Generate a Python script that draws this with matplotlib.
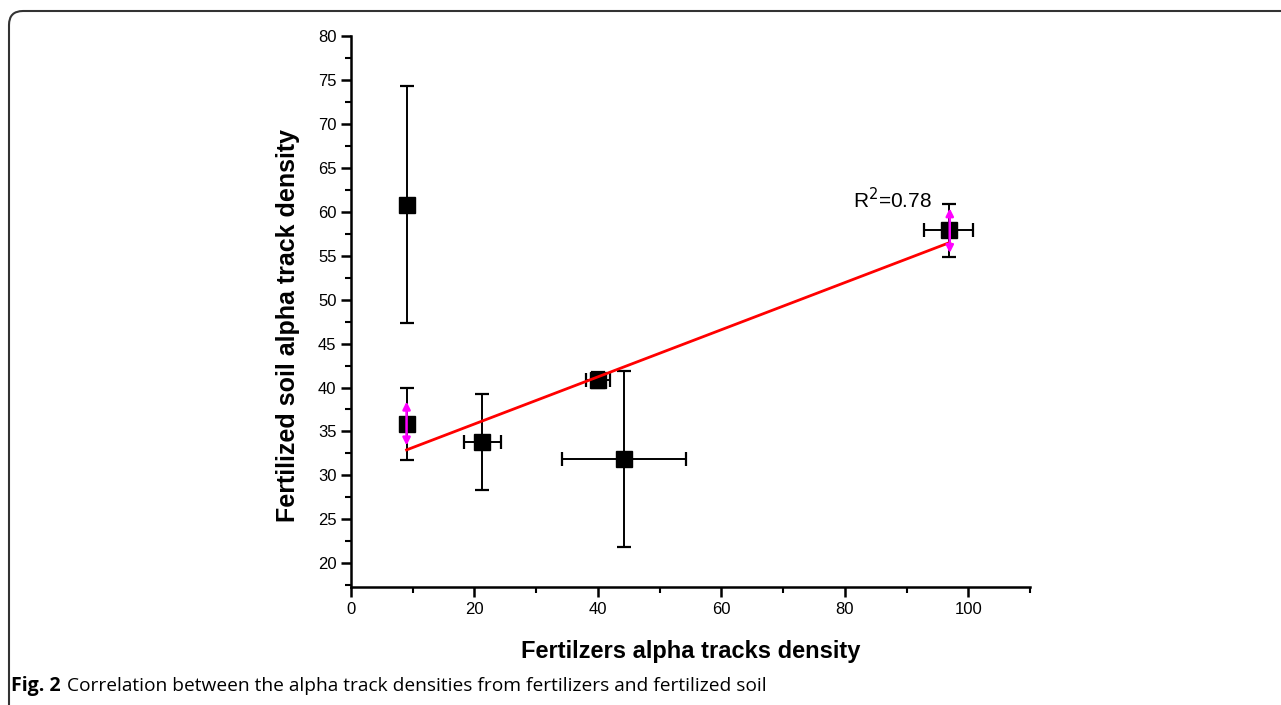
import matplotlib.pyplot as plt
from matplotlib.patches import FancyBboxPatch
from matplotlib.ticker import MultipleLocator

# data
x_vals = [9, 9, 21.3, 40, 44.2, 96.8]
y_vals = [60.8, 35.9, 33.8, 40.9, 31.9, 57.9]
x_err = [0, 0, 3.0, 2.0, 10.0, 4.0]
y_err = [13.5, 4.1, 5.5, 0.9, 10.0, 3.0]

# red fit line ends
fit_x = [9, 97]
fit_y = [32.9, 56.5]

# magenta arrows (x, y_low, y_high)
arrow_x = [9, 97]
arrow_lo = [33.4, 55.3]
arrow_hi = [38.4, 60.4]

x_ticks = [0, 20, 40, 60, 80, 100]
y_ticks = [20, 25, 30, 35, 40, 45, 50, 55, 60, 65, 70, 75, 80]

plt.rcParams['font.family'] = ['Liberation Sans', 'DejaVu Sans']

fig = plt.figure(figsize=(12.81, 7.05), dpi=100)
fig.patch.set_facecolor('white')

# rounded frame around the figure
frame = FancyBboxPatch((9, -40), 1320, 734,
                       boxstyle='round,pad=0,rounding_size=14',
                       transform=None, fill=False, edgecolor='#333333', lw=1.5)
fig.patches.append(frame)

ax = fig.add_axes([351 / 1281, 1 - 587 / 705, (1030 - 351) / 1281, (587 - 36) / 705])

ax.errorbar(x_vals, y_vals, xerr=x_err, yerr=y_err, fmt='s', color='black',
            ms=11, ecolor='black', elinewidth=1.4, capsize=5, capthick=1.6, zorder=3)
ax.plot(fit_x, fit_y, color='red', lw=2, zorder=4)

for xa, lo, hi in zip(arrow_x, arrow_lo, arrow_hi):
    ax.annotate('', xy=(xa, hi), xytext=(xa, lo),
                arrowprops=dict(arrowstyle='<|-|>', color='magenta', lw=1.8,
                                mutation_scale=11, shrinkA=0, shrinkB=0), zorder=5)

ax.text(81.3, 60.4, r'R$^2$=0.78', fontsize=15, ha='left', va='baseline')

ax.set_xlim(0, 110)
ax.set_ylim(17.3, 80)
ax.set_xticks(x_ticks)
ax.set_yticks(y_ticks)
ax.xaxis.set_minor_locator(MultipleLocator(10))
ax.yaxis.set_minor_locator(MultipleLocator(2.5))

for s in ['top', 'right']:
    ax.spines[s].set_visible(False)
for s in ['left', 'bottom']:
    ax.spines[s].set_linewidth(1.8)

ax.tick_params(which='major', direction='out', length=7, width=1.8, labelsize=12)
ax.tick_params(which='minor', direction='out', length=4, width=1.5)

ax.set_xlabel('Fertilzers alpha tracks density', fontsize=17, fontweight='bold', labelpad=17)
ax.set_ylabel('Fertilized soil alpha track density', fontsize=18, fontweight='bold', labelpad=13)
ax.yaxis.label.set_y(0.475)

fig.text(11 / 1281, 1 - 686 / 705, 'Fig. 2', fontsize=14, fontweight='bold',
         family=['Open Sans', 'DejaVu Sans'], va='center')
fig.text(67 / 1281, 1 - 686 / 705,
         'Correlation between the alpha track densities from fertilizers and fertilized soil',
         fontsize=13.8, family=['Open Sans', 'DejaVu Sans'], va='center')

fig.savefig('out.png', dpi=100)
